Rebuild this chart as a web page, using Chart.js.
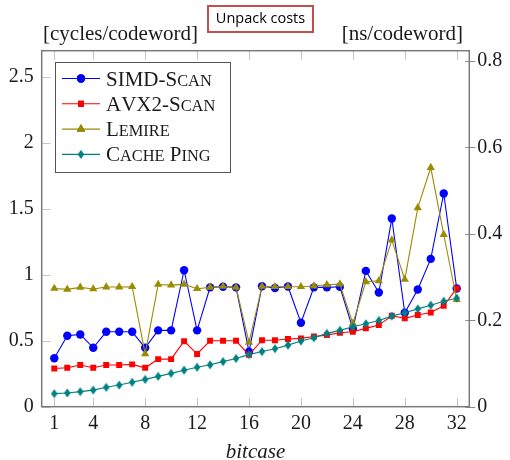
<!DOCTYPE html>
<html><head><meta charset="utf-8">
<script src="https://cdn.jsdelivr.net/npm/chart.js@4/dist/chart.umd.min.js"></script>
<style>html,body{margin:0;padding:0;background:#fff}#wrap{width:510px;height:460px}</style>
</head><body><div id="wrap"><canvas id="c" width="510" height="460"></canvas></div>
<script>
const bitcases = [1,2,3,4,5,6,7,8,9,10,11,12,13,14,15,16,17,18,19,20,21,22,23,24,25,26,27,28,29,30,31,32];
const simdScan = [0.367,0.538,0.548,0.447,0.568,0.568,0.568,0.447,0.579,0.579,1.035,0.579,0.905,0.91,0.905,0.417,0.914,0.90,0.912,0.637,0.905,0.905,0.91,0.59,1.03,0.866,1.427,0.712,0.889,1.121,1.617,0.897];
const avx2Scan = [0.29,0.295,0.316,0.295,0.316,0.316,0.321,0.295,0.361,0.361,0.497,0.40,0.50,0.50,0.50,0.393,0.504,0.504,0.513,0.518,0.533,0.543,0.561,0.568,0.594,0.619,0.69,0.67,0.695,0.715,0.765,0.897];
const lemire = [0.897,0.89,0.905,0.893,0.908,0.908,0.91,0.40,0.927,0.922,0.928,0.895,0.905,0.912,0.905,0.488,0.912,0.91,0.91,0.91,0.915,0.925,0.93,0.632,0.947,0.955,1.263,0.965,1.508,1.814,1.306,0.813];
const cachePing = [0.099,0.104,0.114,0.126,0.147,0.164,0.185,0.207,0.23,0.253,0.277,0.299,0.318,0.342,0.366,0.395,0.418,0.44,0.467,0.498,0.523,0.556,0.579,0.606,0.629,0.654,0.687,0.712,0.742,0.77,0.80,0.823];
const seriesLabels = ['SIMD-Scan','AVX2-Scan','Lemire','Cache Ping'];
const xTicks = [1,4,8,12,16,20,24,28,32];
const yLeftTicks = [0,0.5,1,1.5,2,2.5];
const yRightTicks = [0,0.2,0.4,0.6,0.8];
const titleText = 'Unpack costs';
const leftUnit = '[cycles/codeword]';
const rightUnit = '[ns/codeword]';
const xTitle = 'bitcase';

const SERIF = '"Liberation Serif", "DejaVu Serif", serif';

function diamond(color){
  const c = document.createElement('canvas');
  c.width = 8; c.height = 10;
  const g = c.getContext('2d');
  g.fillStyle = color;
  g.beginPath(); g.moveTo(4,0.5); g.lineTo(7.3,5); g.lineTo(4,9.5); g.lineTo(0.7,5); g.closePath(); g.fill();
  return c;
}
const colors = ['#0000ff','#ff0000','#9a8c00','#008080'];
const styles = ['circle','rect','triangle', diamond('#008080')];
const radii = [4.2,4.2,4.8,5];

function pts(arr){ return bitcases.map((x,i)=>({x:x,y:arr[i]})); }
const all = [simdScan, avx2Scan, lemire, cachePing];
const datasets = all.map((arr,i)=>({
  label: seriesLabels[i], data: pts(arr), yAxisID:'y',
  borderColor: colors[i], backgroundColor: colors[i], borderWidth: 1.1,
  pointStyle: styles[i], pointRadius: radii[i], pointBorderWidth: 0,
  pointBackgroundColor: colors[i], pointBorderColor: colors[i],
  order: 4-i, tension: 0
}));

function drawSmallCaps(ctx, text, x, y, size){
  let cx = x;
  for (const ch of text){
    const lower = ch !== ch.toUpperCase();
    const s = lower ? size*0.78 : size;
    ctx.font = s + 'px ' + SERIF;
    const t = lower ? ch.toUpperCase() : ch;
    ctx.fillText(t, cx, y);
    cx += ctx.measureText(t).width;
  }
}

const decor = {
  id:'decor',
  afterDraw(chart){
    const ctx = chart.ctx, a = chart.chartArea;
    const xs = chart.scales.x, yl = chart.scales.y, yr = chart.scales.y2;
    ctx.save();
    // tick marks
    ctx.strokeStyle = '#c8c8c8'; ctx.lineWidth = 1.2;
    ctx.beginPath();
    for (const v of xTicks){
      const px = Math.round(xs.getPixelForValue(v))+0.5;
      ctx.moveTo(px, a.bottom); ctx.lineTo(px, a.bottom-9);
      ctx.moveTo(px, a.top); ctx.lineTo(px, a.top+9);
    }
    for (const v of yLeftTicks){
      const py = Math.round(yl.getPixelForValue(v))+0.5;
      ctx.moveTo(a.left, py); ctx.lineTo(a.left+9, py);
    }
    ctx.stroke();
    ctx.strokeStyle = '#8a8a8a'; ctx.lineWidth = 1.2;
    ctx.beginPath();
    for (const v of yRightTicks){
      const py = Math.round(yr.getPixelForValue(v))+0.5;
      ctx.moveTo(a.right-4, py); ctx.lineTo(a.right+6, py);
    }
    ctx.stroke();
    // frame
    ctx.strokeStyle = '#7a7a7a'; ctx.lineWidth = 1.5;
    ctx.strokeRect(a.left, a.top, a.right-a.left, a.bottom-a.top);
    // legend
    const lx = 55, ly = 62, lw = 175, lh = 110;
    ctx.fillStyle = '#fff'; ctx.fillRect(lx, ly, lw, lh);
    ctx.strokeStyle = '#555'; ctx.lineWidth = 1;
    ctx.strokeRect(lx+0.5, ly+0.5, lw, lh);
    chart.data.datasets.forEach((ds,i)=>{
      const yy = 78.5 + i*25.3;
      ctx.strokeStyle = ds.borderColor; ctx.lineWidth = 1.1;
      ctx.beginPath(); ctx.moveTo(62, yy); ctx.lineTo(100, yy); ctx.stroke();
      Chart.helpers.drawPoint(ctx, {pointStyle: ds.pointStyle, radius: ds.pointRadius, borderWidth:0, rotation:0}, 81, yy);
      ctx.fillStyle = ds.backgroundColor;
      ctx.beginPath();
      if (typeof ds.pointStyle === 'string'){
        Chart.helpers.drawPoint(ctx, {pointStyle: ds.pointStyle, radius: ds.pointRadius, borderWidth:0, rotation:0}, 81, yy);
        ctx.fill();
      }
      ctx.fillStyle = '#1a1a1a'; ctx.textBaseline = 'alphabetic'; ctx.textAlign = 'left';
      drawSmallCaps(ctx, ds.label, 106, yy+7, 21);
    });
    // unit labels
    ctx.fillStyle = '#1a1a1a';
    ctx.font = '21px ' + SERIF; ctx.textBaseline = 'alphabetic';
    ctx.textAlign = 'left'; ctx.fillText(leftUnit, 43, 40);
    ctx.textAlign = 'right'; ctx.fillText(rightUnit, 463, 40);
    // x title
    ctx.font = 'italic 21px ' + SERIF; ctx.textAlign = 'center';
    ctx.fillText(xTitle, (a.left+a.right)/2, 458);
    // title box
    ctx.fillStyle = '#fff'; ctx.fillRect(207, 5, 107, 28);
    ctx.strokeStyle = '#c0504d'; ctx.lineWidth = 2;
    ctx.strokeRect(208, 6, 105, 26);
    ctx.fillStyle = '#000'; ctx.font = '14.5px "Open Sans", "Noto Sans", sans-serif';
    ctx.textAlign = 'center'; ctx.textBaseline = 'middle';
    ctx.fillText(titleText, 260.5, 19);
    ctx.restore();
  }
};

new Chart(document.getElementById('c'), {
  type:'line',
  data:{datasets},
  options:{
    responsive:false, animation:false, devicePixelRatio:1,
    layout:{padding:{top:50.7,left:0,right:0,bottom:0}},
    plugins:{legend:{display:false}, title:{display:false}, tooltip:{enabled:false}},
    scales:{
      x:{type:'linear', min:0.03, max:32.97,
         afterBuildTicks(s){ s.ticks = xTicks.map(v=>({value:v})); },
         afterFit(s){ s.height = 53.3; },
         grid:{display:false, drawTicks:false}, border:{display:false},
         ticks:{padding:5, color:'#1a1a1a', font:{family:SERIF, size:20}, maxRotation:0, autoSkip:false, callback:v=>String(v)}},
      y:{type:'linear', position:'left', min:0, max:2.7,
         afterBuildTicks(s){ s.ticks = yLeftTicks.map(v=>({value:v})); },
         afterFit(s){ s.width = 41.7; },
         grid:{display:false, drawTicks:false}, border:{display:false},
         ticks:{padding:8, color:'#1a1a1a', font:{family:SERIF, size:20}, callback:v=>String(v)}},
      y2:{type:'linear', position:'right', min:0, max:0.824,
         afterBuildTicks(s){ s.ticks = yRightTicks.map(v=>({value:v})); },
         afterFit(s){ s.width = 40.7; },
         grid:{display:false, drawTicks:false}, border:{display:false},
         ticks:{padding:8, color:'#1a1a1a', font:{family:SERIF, size:20}, callback:v=>String(v)}}
    }
  },
  plugins:[decor]
});
</script></body></html>
